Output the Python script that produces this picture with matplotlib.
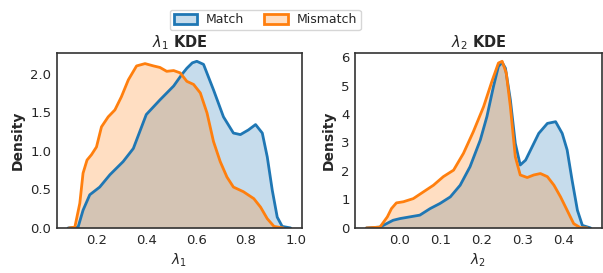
import matplotlib
matplotlib.use("Agg")
import matplotlib.pyplot as plt
import seaborn as sns
from matplotlib.patches import Patch

# KDE curves
l1_match_x = [0.086, 0.126, 0.146, 0.173, 0.213, 0.254, 0.307, 0.348, 0.40, 0.455, 0.51, 0.543,
              0.563, 0.585, 0.603, 0.63, 0.67, 0.71, 0.75, 0.778, 0.81, 0.839, 0.866, 0.886,
              0.906, 0.926, 0.946, 0.98]
l1_match_y = [0.0, 0.01, 0.23, 0.43, 0.53, 0.69, 0.86, 1.03, 1.47, 1.66, 1.84, 1.99,
              2.07, 2.14, 2.16, 2.12, 1.79, 1.44, 1.23, 1.21, 1.27, 1.34, 1.23, 0.92,
              0.49, 0.14, 0.02, 0.0]

l1_mis_x = [0.09, 0.113, 0.133, 0.146, 0.162, 0.18, 0.2, 0.22, 0.247, 0.274, 0.30, 0.328,
            0.361, 0.395, 0.429, 0.455, 0.482, 0.51, 0.536, 0.563, 0.59, 0.617, 0.644, 0.67,
            0.697, 0.724, 0.75, 0.79, 0.832, 0.859, 0.886, 0.913, 0.95]
l1_mis_y = [0.0, 0.01, 0.32, 0.71, 0.88, 0.95, 1.05, 1.31, 1.44, 1.53, 1.70, 1.92,
            2.10, 2.13, 2.10, 2.08, 2.03, 2.04, 2.01, 1.90, 1.86, 1.75, 1.49, 1.12,
            0.86, 0.66, 0.53, 0.47, 0.38, 0.27, 0.12, 0.02, 0.0]

l2_match_x = [-0.08, -0.047, -0.031, -0.015, 0.002, 0.026, 0.05, 0.075, 0.099, 0.124, 0.148,
              0.172, 0.197, 0.213, 0.229, 0.241, 0.25, 0.258, 0.27, 0.282, 0.294, 0.307,
              0.323, 0.339, 0.36, 0.38, 0.396, 0.408, 0.42, 0.433, 0.445, 0.465]
l2_match_y = [0.0, 0.03, 0.15, 0.27, 0.33, 0.39, 0.45, 0.68, 0.86, 1.09, 1.50,
              2.15, 3.09, 3.91, 4.97, 5.67, 5.81, 5.61, 4.50, 2.97, 2.21, 2.38,
              2.85, 3.32, 3.67, 3.73, 3.32, 2.74, 1.68, 0.62, 0.09, 0.0]

l2_mis_x = [-0.08, -0.047, -0.029, -0.019, -0.007, 0.01, 0.034, 0.059, 0.083, 0.107, 0.132,
            0.156, 0.18, 0.205, 0.225, 0.241, 0.25, 0.26, 0.27, 0.282, 0.294, 0.311, 0.327,
            0.343, 0.36, 0.376, 0.392, 0.408, 0.424, 0.44, 0.457]
l2_mis_y = [0.0, 0.03, 0.39, 0.68, 0.88, 0.92, 1.03, 1.27, 1.50, 1.80, 2.03,
            2.62, 3.38, 4.26, 5.14, 5.79, 5.85, 5.44, 4.26, 2.50, 1.86, 1.77, 1.86,
            1.91, 1.80, 1.50, 1.09, 0.62, 0.15, 0.01, 0.0]

labels = ["Match", "Mismatch"]
blue, orange = "#1f77b4", "#ff7f0e"

sns.set_style("white")
plt.rcParams['font.family'] = ['DejaVu Sans']

fig = plt.figure(figsize=(6.03, 2.73), dpi=100)
ax1 = fig.add_axes([0.0945, 0.165, 0.406, 0.641])
ax2 = fig.add_axes([0.589, 0.165, 0.409, 0.641])

panels = [
    (ax1, l1_match_x, l1_match_y, l1_mis_x, l1_mis_y, r"$\lambda_1$", r"$\lambda_1$ KDE"),
    (ax2, l2_match_x, l2_match_y, l2_mis_x, l2_mis_y, r"$\lambda_2$", r"$\lambda_2$ KDE"),
]
for ax, mx, my, ox, oy, xl, title in panels:
    ax.fill_between(mx, my, color=blue, alpha=0.25, lw=0)
    ax.plot(mx, my, color=blue, lw=2, solid_joinstyle='round')
    ax.fill_between(ox, oy, color=orange, alpha=0.25, lw=0)
    ax.plot(ox, oy, color=orange, lw=2, solid_joinstyle='round')
    ax.set_ylim(bottom=0)
    ax.set_xlabel(xl, fontsize=10)
    ax.set_ylabel("Density", fontsize=10, fontweight='bold')
    ax.set_title(title, fontsize=10.5, fontweight='bold', pad=4)
    ax.tick_params(labelsize=9.5, colors='#262626', length=0, pad=4)
    for s in ax.spines.values():
        s.set_color('#333333')
        s.set_linewidth(1.2)

ax1.set_xticks([0.2, 0.4, 0.6, 0.8, 1.0])
ax1.set_yticks([0.0, 0.5, 1.0, 1.5, 2.0])
ax2.set_xticks([0.0, 0.1, 0.2, 0.3, 0.4])
ax2.set_yticks([0, 1, 2, 3, 4, 5, 6])

handles = [Patch(facecolor=matplotlib.colors.to_rgba(blue, 0.25), edgecolor=blue, lw=2),
           Patch(facecolor=matplotlib.colors.to_rgba(orange, 0.25), edgecolor=orange, lw=2)]
fig.legend(handles, labels, loc='upper center', bbox_to_anchor=(0.44, 0.965), ncol=2,
           fontsize=9, frameon=True, handlelength=1.9, handleheight=0.8, columnspacing=1.6,
           borderpad=0.3, handletextpad=0.7, borderaxespad=0)

fig.savefig("out.png", dpi=100)
